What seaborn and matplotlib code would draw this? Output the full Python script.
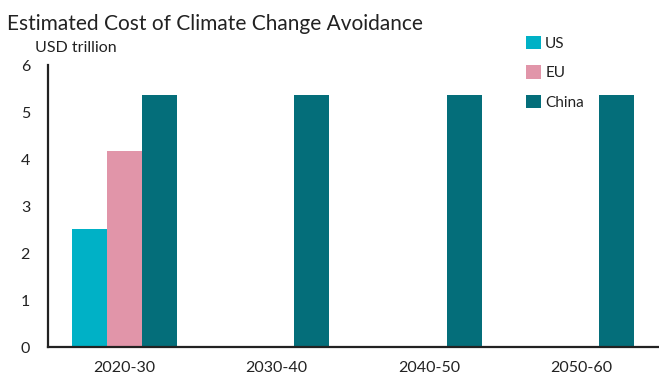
import matplotlib
matplotlib.use("Agg")
import matplotlib.pyplot as plt
import seaborn as sns
import pandas as pd

decades = ["2020-30", "2030-40", "2040-50", "2050-60"]
regions = ["US", "EU", "China"]
us_values = [2.52]
eu_values = [4.18]
china_values = [5.36, 5.36, 5.36, 5.36]
colors = {"US": "#00B1C6", "EU": "#E195A9", "China": "#046E7A"}

rows = []
for d, v in zip(decades, us_values):
    rows.append({"decade": d, "region": "US", "value": v})
for d, v in zip(decades, eu_values):
    rows.append({"decade": d, "region": "EU", "value": v})
for d, v in zip(decades, china_values):
    rows.append({"decade": d, "region": "China", "value": v})
df = pd.DataFrame(rows)

sns.set_style("white")
plt.rcParams["font.family"] = ["Lato", "DejaVu Sans"]

fig = plt.figure(figsize=(6.59, 3.81), dpi=100)
ax = fig.add_axes([0.073, 0.089, 0.925, 0.74])

sns.barplot(data=df, x="decade", y="value", hue="region", order=decades,
            hue_order=regions, palette=colors, width=0.69, ax=ax,
            saturation=1, errorbar=None, dodge=True, edgecolor="none")

ax.set_ylim(0, 6)
ax.set_xlim(-0.5, 3.5)
ax.set_yticks(range(0, 7))
ax.set_xlabel("")
ax.set_ylabel("")
for s in ["top", "right"]:
    ax.spines[s].set_visible(False)
for s in ["left", "bottom"]:
    ax.spines[s].set_color("#222222")
    ax.spines[s].set_linewidth(1.6)

ax.tick_params(axis="y", direction="in", length=5, width=1.4, color="#222222",
               labelsize=11.5, labelcolor="#222222", pad=13)
ax.tick_params(axis="x", which="major", length=0, labelsize=11.5,
               labelcolor="#222222", pad=10)
ax.set_xticks([0.5, 1.5, 2.5], minor=True)
ax.tick_params(axis="x", which="minor", direction="in", length=5, width=1.4,
               color="#222222")

fig.text(0.011, 0.938, "Estimated Cost of Climate Change Avoidance",
         fontsize=15, color="#222222", va="center", ha="left")
fig.text(0.053, 0.874, "USD trillion", fontsize=11.5, color="#222222",
         va="center", ha="left")

leg = ax.legend(loc="upper left", bbox_to_anchor=(0.774, 1.125), frameon=False,
                fontsize=11, handlelength=0.95, handleheight=0.95,
                handletextpad=0.3, labelspacing=0.95, borderaxespad=0)
for t in leg.get_texts():
    t.set_color("#222222")

fig.savefig("out.png", dpi=100)
